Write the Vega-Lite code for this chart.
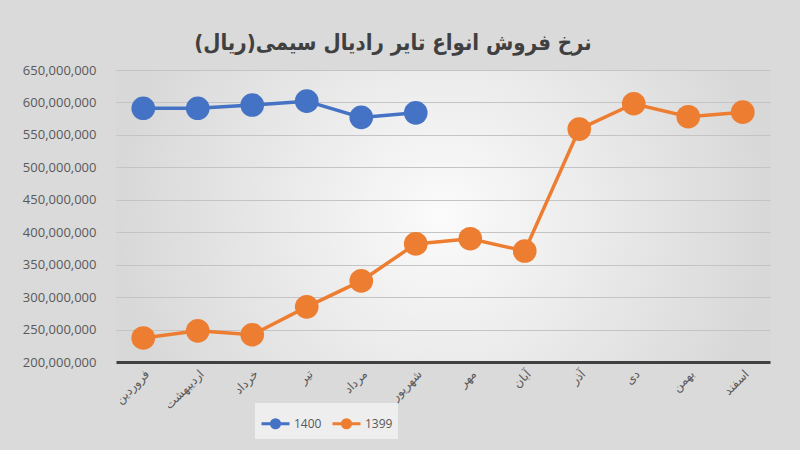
{
  "$schema": "https://vega.github.io/schema/vega-lite/v6.json",
  "autosize": "none",
  "width": 654,
  "height": 292,
  "padding": {"left": 116, "top": 70, "right": 30, "bottom": 88},
  "background": "#dadada",
  "title": {
    "text": "نرخ فروش انواع تایر رادیال سیمی(ریال)",
    "font": "DejaVu Sans Condensed",
    "fontSize": 22,
    "fontWeight": "bold",
    "color": "#404040",
    "anchor": "middle",
    "dx": -50,
    "offset": 9
  },
  "data": {
    "values": [
      {"month": "فروردین", "series": "1400", "value": 591000000},
      {"month": "اردیبهشت", "series": "1400", "value": 591000000},
      {"month": "خرداد", "series": "1400", "value": 596000000},
      {"month": "تیر", "series": "1400", "value": 602000000},
      {"month": "مرداد", "series": "1400", "value": 577000000},
      {"month": "شهریور", "series": "1400", "value": 584000000},
      {"month": "فروردین", "series": "1399", "value": 237000000},
      {"month": "اردیبهشت", "series": "1399", "value": 248000000},
      {"month": "خرداد", "series": "1399", "value": 242000000},
      {"month": "تیر", "series": "1399", "value": 285000000},
      {"month": "مرداد", "series": "1399", "value": 325000000},
      {"month": "شهریور", "series": "1399", "value": 382000000},
      {"month": "مهر", "series": "1399", "value": 390000000},
      {"month": "آبان", "series": "1399", "value": 371000000},
      {"month": "آذر", "series": "1399", "value": 559000000},
      {"month": "دی", "series": "1399", "value": 598000000},
      {"month": "بهمن", "series": "1399", "value": 578000000},
      {"month": "اسفند", "series": "1399", "value": 585000000}
    ]
  },
  "mark": {
    "type": "line",
    "strokeWidth": 3.5,
    "point": {"filled": true, "size": 560, "opacity": 1}
  },
  "encoding": {
    "x": {
      "field": "month",
      "type": "nominal",
      "sort": ["فروردین", "اردیبهشت", "خرداد", "تیر", "مرداد", "شهریور", "مهر", "آبان", "آذر", "دی", "بهمن", "اسفند"],
      "title": null,
      "axis": {
        "labelAngle": -45,
        "labelFont": "DejaVu Sans",
        "labelFontSize": 12,
        "labelColor": "#595959",
        "labelPadding": 6,
        "ticks": false,
        "domainColor": "#404040",
        "domainWidth": 3,
        "grid": false
      }
    },
    "y": {
      "field": "value",
      "type": "quantitative",
      "title": null,
      "scale": {"domain": [200000000, 650000000], "nice": false, "zero": false},
      "axis": {
        "values": [200000000, 250000000, 300000000, 350000000, 400000000, 450000000, 500000000, 550000000, 600000000, 650000000],
        "format": ",d",
        "labelFont": "Open Sans",
        "labelFontSize": 13,
        "labelColor": "#595959",
        "labelPadding": 20,
        "ticks": false,
        "domain": false,
        "gridColor": "#c4c4c4",
        "gridWidth": 1
      }
    },
    "color": {
      "field": "series",
      "type": "nominal",
      "scale": {"domain": ["1400", "1399"], "range": ["#4472c4", "#ed7d31"]},
      "legend": {
        "title": null,
        "orient": "none",
        "direction": "horizontal",
        "legendX": 139,
        "legendY": 333,
        "padding": 5,
        "fillColor": "#eeeeee",
        "labelFont": "Open Sans",
        "labelFontSize": 12,
        "labelColor": "#595959",
        "labelOffset": 3,
        "columnPadding": 4,
        "symbolType": "M-1,0L1,0M-0.29,0A0.29,0.29 0 1,0 0.29,0A0.29,0.29 0 1,0 -0.29,0Z",
        "symbolSize": 784,
        "symbolStrokeWidth": 3,
        "encode": {
          "symbols": {"update": {"fill": {"scale": "color", "field": "value"}, "fillOpacity": {"value": 1}}}
        }
      }
    }
  },
  "config": {
    "view": {
      "stroke": null,
      "fill": {
        "gradient": "radial",
        "stops": [
          {"offset": 0, "color": "#fbfbfb"},
          {"offset": 1, "color": "#d8d8d8"}
        ]
      }
    }
  }
}
